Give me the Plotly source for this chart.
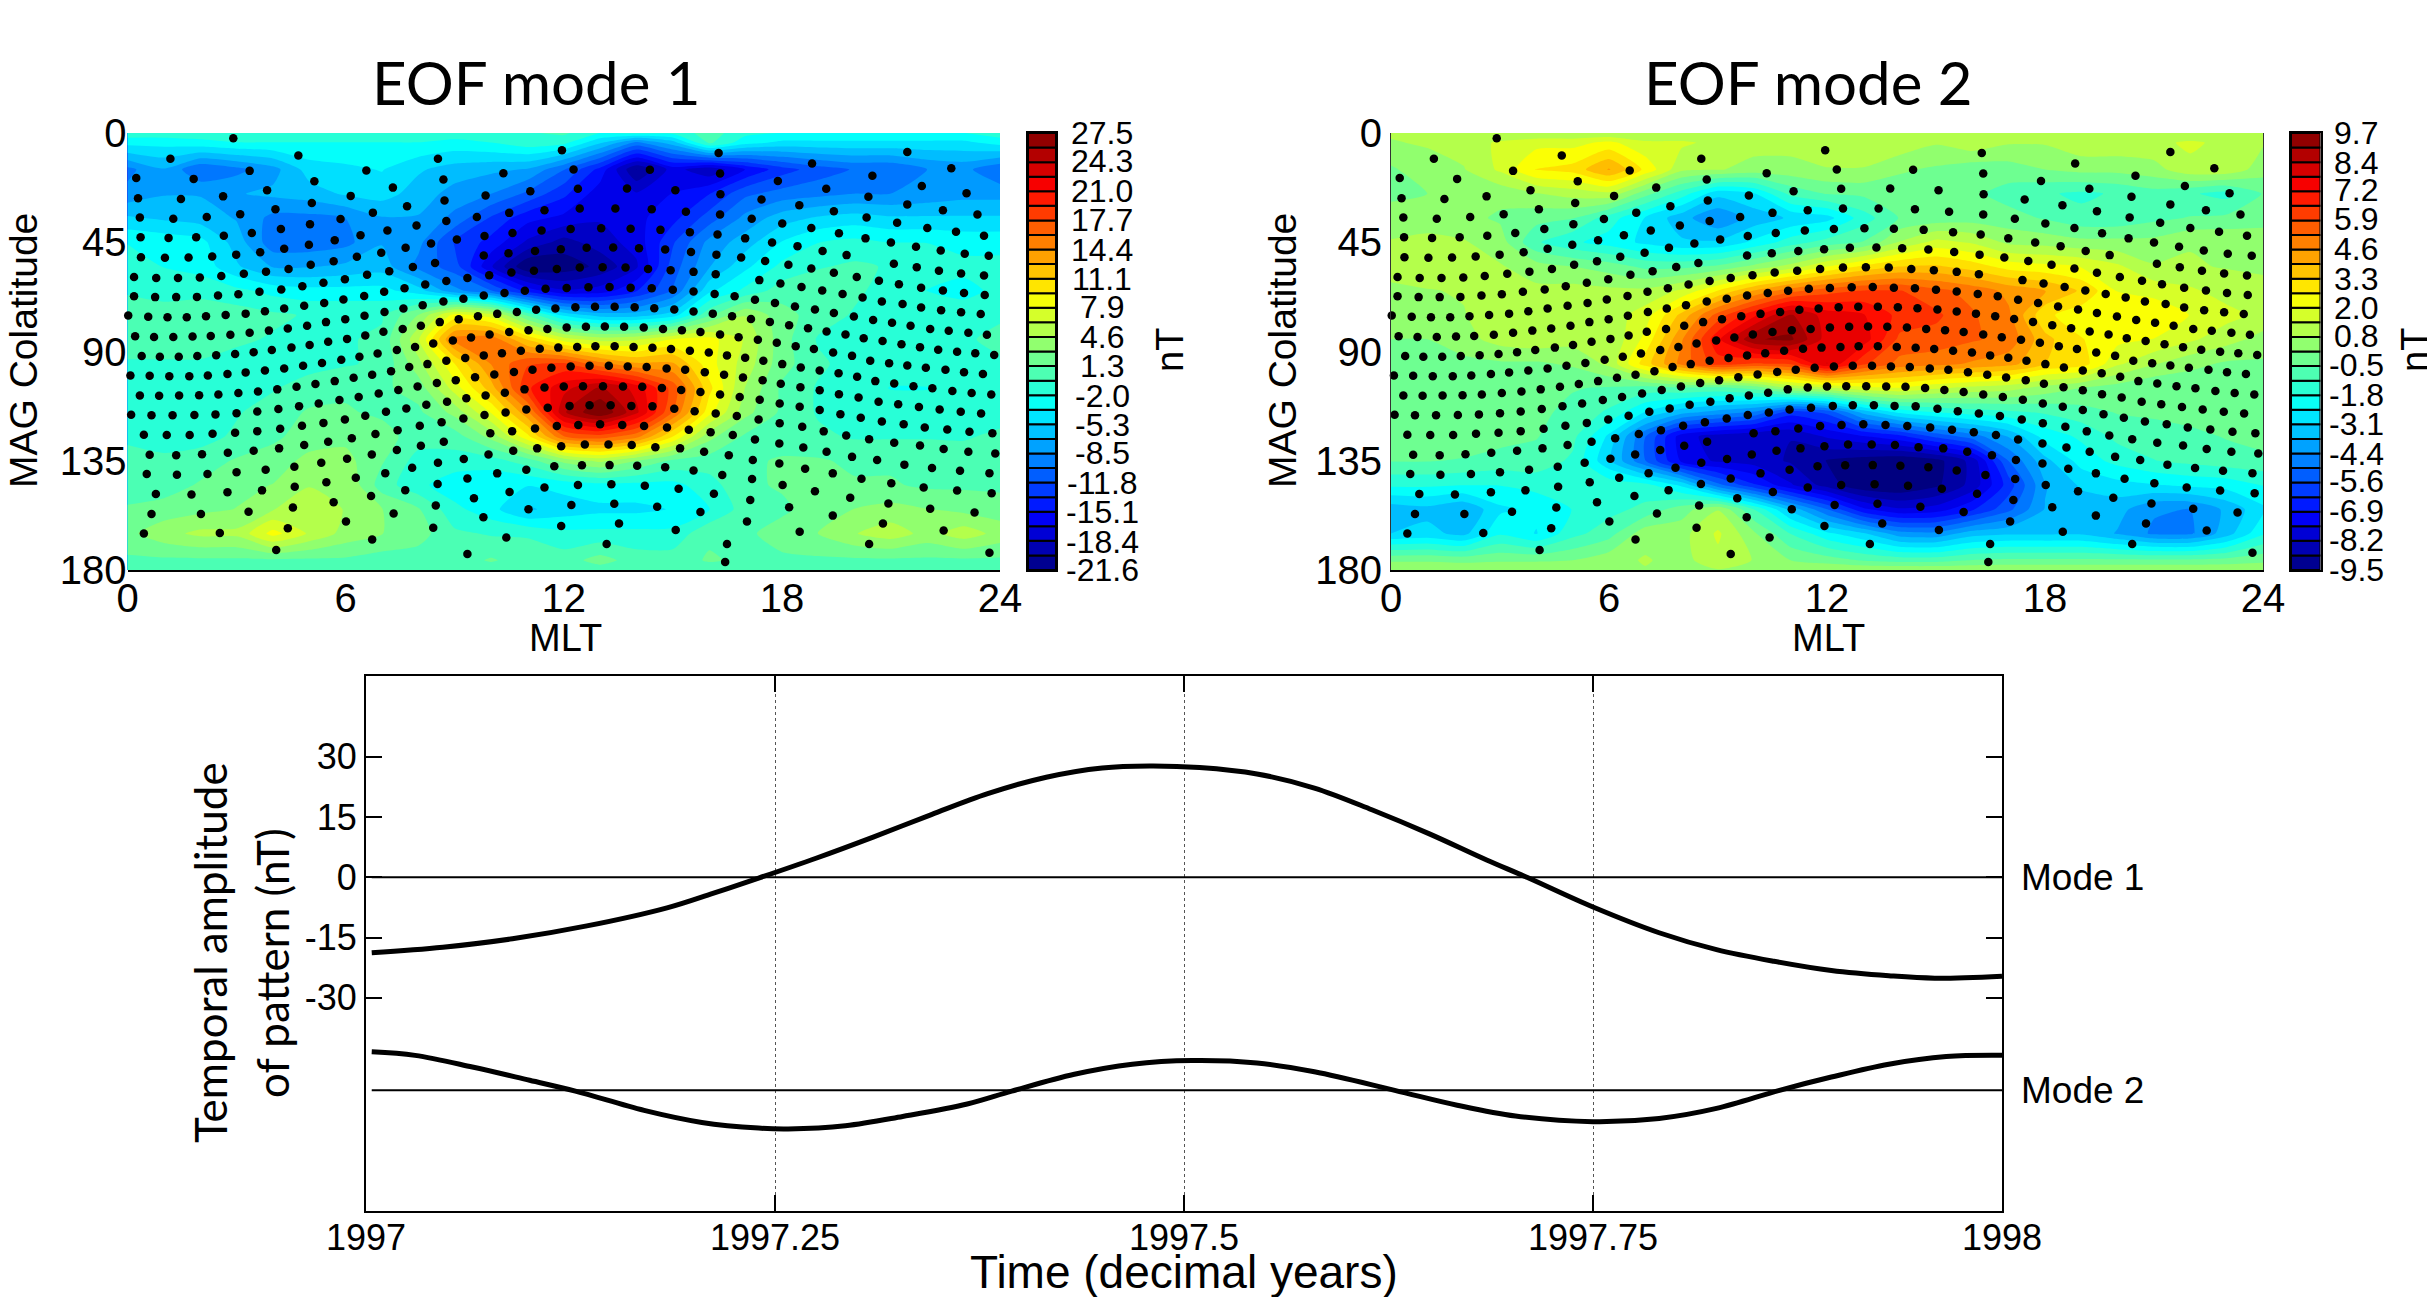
import plotly.graph_objects as go

W, H = 2435, 1297
BODY_MARGIN = 8

MLT_HOURS = list(range(25))
COLAT_ROWS = [0, 4, 15, 25, 35, 45, 55, 65, 75, 85, 95, 105, 115, 125, 135, 145, 155, 165, 176, 180]

MODE1_GRID = [
 [-1,-1,-1,-1,-1,-1,-1,-1,-1,-1,-1,-0.5,0,-2,-1.5,-1.5,0.5,-1.5,-2,-2,-2,-2,-2,-2,-1],
 [-3,-3,-2.5,-2,-2,-2,-2,-2,-2,-2.5,-2,-1,-1.5,-5,-9,-6,0,-3,-4,-4,-4,-4,-4,-4,-3],
 [-9,-7,-10,-9,-7.5,-4.5,-4,-3.5,-5,-6,-6.5,-7,-10,-14,-20,-16,-18,-15,-12.5,-11,-10,-10,-8.5,-8,-10],
 [-8,-7,-7,-7,-6.5,-6,-5,-4.5,-6,-7.5,-8.5,-10.5,-13,-16,-16.5,-15,-13.5,-10.5,-9.5,-9,-8.5,-8.5,-8,-7.5,-7.5],
 [-5,-5.5,-6,-7,-9,-9,-8.5,-7,-7,-9,-12,-14.5,-15.5,-16.5,-15.5,-14,-11,-8,-6,-5,-4.5,-5,-5,-5,-5],
 [-2,-2.5,-3,-6,-9.5,-9.5,-9,-7,-8,-12,-14,-17,-19,-17.5,-16,-12,-8,-6,-3.5,-2,-1.5,-2,-2,-2.5,-2.5],
 [-1.5,-2,-2.5,-5,-7,-7,-6.5,-6,-9,-11,-16.5,-21.5,-21,-19.5,-17,-11,-7,-4,-1.5,-0.5,0,-0.5,-1,-1.5,-1.5],
 [-0.5,-1,-1,-1.5,-2.5,-3,-3,-3,-4.5,-8,-10,-14,-16.5,-16,-13.5,-10,-4,-1.5,0.5,1,0,-1,-2,-2.5,-1.5],
 [0.5,0.5,1,0.5,0,-0.5,-0.5,-0.5,3,8.5,7,1,-4,-6,-6,-4.5,1,4.5,2,0.5,-0.5,-0.5,-1,-1,-0.5],
 [0.5,0.5,0.5,0,-0.5,-1,-0.5,0,6,15,15.5,11,7,5.5,6,8,8.5,6,2,-0.5,-1,-1,-1,-0.5,0],
 [-0.5,-0.5,-0.5,-1,-1,-1,-0.5,0,4,9.5,14.5,17.5,18,15,13,13,8.5,5.5,2,0,-1,-1.5,-1,-0.5,-0.5],
 [-1,-1,-1,-0.5,-0.5,0.5,1,1,2,7,12,19,22,24.5,22,17,10,4.5,1,-0.5,-1.5,-2,-2,-1.5,-1],
 [-1,-1.5,-1.5,-0.5,0.5,1.5,1.5,1,1,3.5,8,14,24,27.5,23,16,8.5,3.5,1,-0.5,-1.5,-1.5,-1.5,-1.5,-1],
 [-0.5,-1,-1,0,1,2,2.5,2,0.5,0.5,3.5,9,16,17,15,9.5,3.5,1,0.5,0,-0.5,-0.5,-0.5,-0.5,0],
 [0,0,0.5,1.5,2,3.5,3.5,1.5,-1,-1,-1,0.5,3.5,5,3,1,0.5,1,1.5,1.5,1,1,1,0.5,0.5],
 [0.5,0.5,1.5,2.5,3,4.5,4.5,0.5,-1.5,-3,-3.5,-3.5,-3,-2.5,-2.5,-2.5,-1,1,1.5,2,1.5,1.5,1,1,1],
 [1.5,2,2.5,3,4.5,5.5,4.5,3,1.5,-1.5,-3,-5.5,-4.5,-4,-4,-3.5,-2,0.5,1,2,3,3.5,3,2.5,2],
 [2.5,4,5,5,8.5,6,4,3,2,0,-0.5,-0.5,-1.5,-1.5,-1.5,-1.5,1,1,2,3,4.5,5.5,4,5.5,4],
 [1,1,1,1,1,1,1,0.5,0.5,0.5,1.5,0.5,0.5,2,0.5,0.5,1.5,1,1,1,1,1,1,1,1],
 [0.5,0.5,0.5,0.5,0.5,0.5,0.5,0.5,0.5,0.5,0.5,0.5,0.5,0.5,0.5,0.5,0.5,0.5,0.5,0.5,0.5,0.5,0.5,0.5,0.5],
]

MODE2_GRID = [
 [0.8,0.8,0.8,0.8,0.8,0.8,0.8,0.8,0.8,0.8,0.8,0.8,0.8,0.8,0.8,0.8,0.8,0.8,0.8,0.8,0.8,0.8,0.8,0.8,0.8],
 [0.7,0.8,1,1.5,1.8,1.8,2.2,1.5,1.5,1.2,1,1,1.2,1.2,1.2,0.8,1.2,0.8,0.8,1.2,1.2,1.2,1.5,1.2,0.8],
 [0,0.5,0.7,1.5,2.7,2.9,4,2.5,0.9,0.8,0.5,0.5,0.7,0.7,0.2,0,-0.3,-0.2,0.1,0.3,0.3,0.5,1.2,1.2,0.4],
 [0,0.1,0.1,0.3,0.7,1,1.2,-0.3,-1.5,-2.9,-2.5,-1,-0.5,-0.4,-0.3,-0.3,-0.4,-0.8,-1.1,-1.3,-1.1,-0.8,-1.1,-1.4,-0.5],
 [0.3,0.3,0.3,0,-0.3,-0.5,-1.5,-2.5,-3.5,-4.3,-3.5,-3,-2.7,-1.5,-0.5,-0.3,-0.2,-0.3,-0.6,-1,-1,-0.7,-0.5,-0.4,-0.3],
 [0.8,1,0.8,0.4,-1.1,-1.7,-2.1,-2.6,-3,-3,-2.3,-1.5,-0.9,-0.5,0.8,1.6,1.3,0.6,0.5,0.3,0.3,0.3,0.7,0.7,0.7],
 [1,1.2,1,0.8,0.4,0.1,-0.2,-0.7,-0.7,-0.4,0.3,1,2,2.8,3.3,3.4,3,2.4,2.2,2,1.5,0.8,0.8,0.7,0.6],
 [0.6,0.7,0.8,0.8,0.9,1,0.9,0.9,1.5,2.7,4,5,5.6,5.9,5.9,5.4,5,4.4,4,3.2,2,1.8,1.5,1.1,1],
 [0.4,0.5,0.7,1.2,1.2,1,1,1.7,3.5,5.5,7,8.5,7.5,7.2,6.3,6,5.3,4.7,2.8,2.3,2.4,2.5,2,1.6,1.2],
 [0.1,0.1,0.5,1,1.2,1,0.8,2.2,4.5,7,9,9.2,7.5,7.5,5.7,5.6,5.3,5,3.5,2.7,2.2,2,1.5,1,0.5],
 [0,-0.1,-0.1,0,0,0.2,0.9,3,4.8,6.2,5.8,6,7.8,6,5,4.8,4.5,4.2,3.3,3,1.5,0.8,0.3,0,0],
 [-0.2,-0.2,-0.2,-0.3,-0.5,-0.5,-0.6,-0.8,-0.6,-0.7,-0.3,0.8,1.3,1.8,2,1.5,1.2,1,0.5,0.1,-0.2,-0.5,-0.4,-0.3,-0.3],
 [0,0,0.1,-0.2,-0.4,-0.7,-1.3,-2.5,-3.5,-4,-4.5,-6,-5.5,-3.5,-2.3,-1.8,-1.5,-1.3,-1.1,-0.8,-0.5,-0.4,-0.3,-0.3,-0.2],
 [-0.1,-0.1,-0.1,-0.3,-0.5,-1,-2.6,-5,-7.3,-7.9,-8.2,-8.2,-7.5,-7,-6.5,-5.5,-4.7,-3.7,-2.2,-1.7,-1,-0.9,-0.7,-0.5,-0.3],
 [-0.5,-0.5,-0.6,-0.8,-0.8,-1.3,-3,-5,-7.1,-7.7,-7.9,-8.3,-8.9,-9.2,-9.4,-9.1,-8,-5,-3.3,-2.2,-1.6,-1.2,-1,-0.8,-0.7],
 [-1.7,-1.7,-1.8,-1.8,-1.6,-1.4,-1.4,-1.6,-2.6,-4.8,-6.2,-7.5,-8.5,-9.4,-9.5,-9,-8,-6,-3.8,-3,-2.7,-2.5,-2.3,-2.2,-1.8],
 [-3.5,-3.3,-3.7,-2.6,-2.3,-1.8,-1.4,-1,-0.2,0.7,-1.2,-3.3,-5,-6.8,-7.5,-7.3,-6.4,-5.2,-3.7,-3.5,-3.5,-4.3,-4.4,-3.6,-2.6],
 [-3.1,-2.9,-3.3,-1.9,-2.5,-1.4,-0.8,0.5,0.5,1.5,0.2,-1.2,-2.3,-3,-4.1,-4.2,-3.4,-3.2,-3.2,-3.2,-3.8,-4.5,-4.5,-3.4,-1.9],
 [0,0,-0.1,0,0,0.1,0.5,0.8,0.5,1.2,0.7,0.1,-0.2,-0.6,-0.8,-0.8,-0.5,-0.4,-0.4,-0.4,-0.4,-0.4,-0.4,-0.3,-0.1],
 [0.7,0.7,0.7,0.7,0.7,0.7,0.7,0.7,0.7,0.7,0.7,0.7,0.7,0.7,0.7,0.7,0.7,0.7,0.7,0.7,0.7,0.7,0.7,0.7,0.7],
]

MODE1_CB_TICKS = [27.5,24.3,21.0,17.7,14.4,11.1,7.9,4.6,1.3,-2.0,-5.3,-8.5,-11.8,-15.1,-18.4,-21.6]
MODE2_CB_TICKS = [9.7,8.4,7.2,5.9,4.6,3.3,2.0,0.8,-0.5,-1.8,-3.1,-4.4,-5.6,-6.9,-8.2,-9.5]
N_BANDS = 30

STATION_MLT_ROWS = [
 [2.91,11.95,16.26,21.45,1.18,4.70,8.54,18.83,22.66,3.36,6.57,12.27,14.37,16.30,0.24,1.82,5.14,8.69,10.34,17.89,20.49],
 [0.29,1.47,2.63,3.84,6.14,7.30,9.85,11.08,12.39,13.74,15.07,16.31,17.44,19.22,20.38,21.85,23.08],
 [0.34,1.26,2.18,3.10,4.07,5.07,5.86,6.75,7.69,8.72,9.61,10.50,11.47,12.44,13.42,14.42,15.36,16.30,17.17,18.48,19.43,20.33,21.45,22.43,23.38],
 [.36,1.13,1.89,2.65,3.42,4.22,5.02,5.70,6.41,7.15,7.95,8.77,9.82,10.59,11.39,12.19,13.03,13.84,14.66,15.47,16.23,16.99,18.01,18.81,19.57,20.30,21.17,22.0,22.79,23.56],
 [.37,1.03,1.68,2.33,2.99,3.65,4.31,4.99,6.31,6.98,7.65,8.35,9.06,9.80,10.48,11.21,11.92,12.63,13.36,14.07,14.79,15.50,16.20,16.88,17.73,18.43,19.12,19.78,21.0,21.69,22.37,23.03,23.69],
 [.18,.79,1.39,1.99,2.58,3.20,3.81,4.43,5.04,5.67,6.59,7.20,7.85,8.46,9.35,9.95,10.56,11.18,11.81,12.44,13.07,13.70,14.32,14.94,15.57,16.18,17.54,18.18,18.81,19.43,20.06,20.67,21.08,21.71,22.32,22.93,23.56],
 [.18,.76,1.34,1.91,2.49,3.05,3.63,4.23,4.81,5.39,5.98,6.51,7.06,7.62,8.19,8.77,9.80,10.37,10.93,11.50,12.08,12.68,13.26,13.84,14.42,15.0,15.57,16.15,16.70,17.38,17.96,18.54,19.11,19.67,20.22,20.75,21.22,21.83,22.43,23.01,23.58],
 [.02,.57,1.10,1.63,2.16,2.70,3.25,3.78,4.31,4.86,5.41,5.94,7.07,7.59,8.12,8.69,9.24,10.17,10.71,11.24,11.77,12.32,12.86,13.40,13.95,14.49,15.04,15.57,16.10,16.63,17.26,17.81,18.36,18.91,19.43,19.98,20.51,21.32,21.83,22.38,22.93,23.47],
 [.21,.73,1.26,1.79,2.29,2.83,3.36,3.89,4.41,4.94,5.46,5.99,6.52,7.04,7.57,8.07,8.59,9.11,9.64,10.50,11.03,11.55,12.08,12.61,13.13,13.66,14.20,14.73,15.25,15.76,16.30,17.15,17.67,18.20,18.72,19.23,19.75,20.25,21.03,21.54,22.08,22.59,23.13,23.64],
 [.39,.89,1.41,1.92,2.44,2.96,3.47,3.97,4.51,5.01,5.52,6.04,6.54,7.41,7.91,8.41,8.95,9.45,9.96,10.82,11.34,11.85,12.37,12.87,13.40,13.92,14.44,14.95,15.47,15.99,16.49,16.81,17.34,17.86,18.38,18.88,19.41,19.93,20.77,21.29,21.80,22.30,22.82,23.32,23.84],
 [.08,.61,1.15,1.70,2.21,2.75,3.25,3.78,4.31,4.83,5.35,5.88,6.38,6.88,7.75,8.25,8.77,9.29,9.80,10.30,10.63,11.14,11.66,12.19,12.71,13.24,13.76,14.28,14.83,15.34,15.88,16.41,16.99,17.49,18.01,18.52,19.04,19.56,20.07,20.43,20.95,21.45,21.96,22.50,23.01,23.53],
 [.34,.87,1.42,1.97,2.50,3.05,3.59,4.12,4.65,5.17,5.70,6.22,6.73,7.25,7.45,7.98,8.51,9.03,9.56,10.09,10.38,10.92,11.47,12.0,12.53,13.08,13.63,14.16,14.70,15.23,15.76,16.30,16.93,17.47,17.97,18.51,19.04,19.57,20.11,20.57,21.09,21.62,22.14,22.69,23.22,23.76],
 [.10,.66,1.24,1.84,2.42,3.0,3.57,4.15,4.72,5.26,5.83,6.36,6.91,7.11,7.67,8.22,8.79,9.32,9.85,9.82,10.40,10.97,11.56,12.16,12.71,13.29,13.86,14.44,15.04,15.60,16.18,16.84,17.39,17.94,18.49,19.04,19.61,20.17,20.66,21.20,21.77,22.34,22.92,23.48],
 [.45,1.08,1.71,2.34,2.96,3.57,4.20,4.80,5.39,5.98,6.54,6.82,7.43,8.04,8.64,9.24,9.98,10.58,11.21,11.81,12.40,13.0,13.61,14.21,14.84,15.44,16.04,16.65,16.76,17.36,17.94,18.56,19.15,19.77,20.40,20.75,21.35,21.93,22.55,23.16,23.79],
 [.61,1.34,2.05,2.76,3.47,4.17,4.86,5.52,6.17,6.72,7.41,8.07,8.70,9.25,9.93,10.61,11.27,11.93,12.58,13.23,13.87,14.52,15.20,15.86,16.54,17.26,17.93,18.59,19.23,19.93,20.62,21.09,21.80,22.45,23.13,23.87],
 [.53,1.36,2.20,3.0,3.80,4.59,5.33,6.04,7.09,7.83,8.54,10.17,10.97,11.74,12.50,13.26,14.02,14.79,15.57,16.36,17.20,17.93,18.64,19.40,20.19,21.37,22.13,22.90,23.71],
 [.78,1.76,2.75,3.70,4.60,5.47,6.28,7.64,8.53,9.35,10.51,11.47,12.39,13.31,14.23,15.16,16.13,17.18,18.02,18.91,19.88,21.01,21.90,22.82,23.77],
 [.66,2.02,3.33,4.55,5.67,6.70,8.48,9.53,11.03,12.21,13.39,14.57,15.76,17.13,18.20,19.40,20.93,22.08,23.30],
 [.45,2.54,4.41,6.01,7.32,8.41,9.79,11.93,13.52,15.08,17.04,18.49,20.78,22.45],
 [4.09,6.73,10.42,13.18,16.49,20.40,23.71,9.35,16.44],
]
STATION_COLAT_ROWS = [
 [2.2,7.1,8.2,7.8,10.6,9.3,10.6,12.6,14.5,15.6,15.4,15.0,15.1,16.7,18.5,18.9,19.9,19.2,16.6,19.8,17.6],
 [26.9,27.2,26.1,23.6,25.9,22.5,25.7,24,23,22.9,23.6,25.2,27.4,23,26.3,21.8,24.8],
 [34.8,35.3,34.6,33.5,31.4,28.8,35.4,32.8,30.2,27.8,34.6,32.9,31.8,31.1,31.1,31.4,32.4,33.6,35.3,29.8,32.2,34.8,29.4,31.8,33.6],
 [42.9,43.2,42.9,42.3,41.2,39.5,37.6,44.2,42.1,40.2,38.1,36.2,42.4,41.2,40.2,39.5,39.2,39.4,39.9,40.9,41.8,43.4,37.3,39.1,41.3,43.4,37.0,39.1,40.7,42.3],
 [51.2,51.4,51.3,50.9,50.1,49.1,47.7,46.0,51.0,49.3,47.3,45.5,43.9,50.5,49.5,48.6,47.9,47.3,47.2,47.5,48.0,49.0,50.1,51.3,45.1,46.6,48.6,50.3,45.1,46.9,48.4,49.7,50.6],
 [59.3,59.7,59.7,59.5,58.9,58.0,57.1,56.0,54.3,52.8,58.4,56.9,55.2,53.5,59.7,58.6,57.5,56.7,56.0,55.4,55.3,55.4,56.0,56.5,57.2,58.2,52.7,54.3,55.8,57.6,59.3,60.9,53.9,55.3,56.7,57.9,58.7],
 [67.2,67.6,67.6,67.5,66.9,66.4,65.4,64.5,63.1,61.7,60.2,67.1,65.4,63.9,62.4,61.0,66.9,65.9,65.0,64.2,63.8,63.5,63.4,63.7,63.9,64.6,65.3,66.3,67.2,60.6,62.0,63.4,64.9,66.3,67.8,69.4,62.3,63.7,64.9,65.9,66.7],
 [75.2,75.7,75.9,75.9,75.5,75.0,74.4,73.4,72.3,71.2,70.0,68.6,73.7,72.3,70.9,69.4,68.3,74.5,73.7,72.8,72.3,71.8,71.6,71.6,71.8,72.2,72.7,73.5,74.4,75.5,68.7,70.0,71.5,72.7,74.1,75.6,77.0,70.4,71.9,73.0,73.8,74.6],
 [83.7,84.0,84.0,83.8,83.6,83.1,82.3,81.4,80.5,79.4,77.9,76.7,75.3,81.9,80.7,79.4,77.9,76.7,75.5,82.0,81.2,80.7,80.1,79.8,79.7,79.8,80.1,80.7,81.2,82.0,83.0,76.6,77.8,79.2,80.4,81.8,83.0,84.5,78.2,79.4,80.7,81.5,82.3,83.1],
 [91.9,92.2,92.2,91.9,91.5,91.0,90.3,89.4,88.4,87.3,86.0,84.8,83.4,89.4,88.1,86.7,85.5,84.2,83.0,89.7,88.9,88.4,88.1,87.8,87.8,88.1,88.5,89.0,89.7,90.4,91.6,84.1,85.2,86.4,87.8,89.0,90.4,91.8,85.7,87.0,88.2,89.3,90.1,90.7,91.4],
 [99.9,100,100.2,100.2,99.9,99.3,98.6,97.8,97,95.9,94.7,93.4,92.2,90.8,96.4,95.2,93.8,92.7,91.6,90.7,98.4,97.5,96.7,96.2,95.9,95.9,96.2,96.4,97,97.5,98.5,99.6,92.6,93.8,95.2,96.6,97.8,99,100.4,93.8,94.8,95.8,96.7,97.5,98.5,99.3],
 [108.1,108.2,108.1,108,107.7,107.1,106.5,105.6,104.5,103.4,102.2,100.8,99.6,98.1,105.9,104.4,103,101.8,100.6,99.5,107,105.6,104.8,104.4,104.3,104.3,104.4,104.5,105,105.9,106.7,107.7,100.7,101.8,103.3,104.7,106,107.6,108.9,102.2,103.2,104.3,105.1,106.3,107.1,107.7],
 [116.1,116.3,116.3,116.2,115.9,115.4,114.7,113.7,112.5,111.4,110,108.7,107.3,114.8,113.5,111.9,110.7,109.3,108.1,116.2,115.1,113.9,113.2,112.4,112.1,112.1,112.4,112.6,113.6,114.6,115.5,108.7,109.9,111.4,112.8,114.1,115.8,117.3,110.7,111.7,112.9,113.9,114.8,115.5],
 [124.3,124.4,124.4,123.9,123.5,122.8,121.8,120.6,119.4,118,116.5,124,122.4,120.6,119.1,117.6,123.7,122.8,121.7,120.7,120.3,120,120.3,120.7,121.3,122.2,123.3,124.4,116.6,118,119.6,121,122.9,124.6,126.1,118.8,120,121.3,122.1,123.1,123.7],
 [132.5,132.7,132.3,131.7,130.9,129.9,128.5,127.2,125.7,132.4,130.6,128.8,127.2,134.3,132.4,130.9,129.9,129,128.3,128.3,128.5,129.4,129.9,131.3,132.7,126.2,127.9,129.5,131.3,133.4,134.7,127.6,128.7,130.2,131.3,132],
 [140.5,140.8,140.5,139.7,138.7,137.5,135.8,134.2,140.1,137.9,135.8,140.2,138.7,137.3,136.9,136.8,137.1,137.7,139,140.9,134.7,136.1,138.3,140.2,142.4,136.6,138,139.1,140.1],
 [148.7,148.9,148,147.2,145.7,143.9,142,147.1,144.6,142.3,147.9,146,145,144.7,145.3,146.5,148.6,142.5,145,147.6,150.2,144.3,146,147.3,148.4],
 [156.9,156.9,156,154.3,152.1,149.5,153.4,150.4,155,153.2,152.7,153.9,156.1,151.2,154.2,157.6,152.6,154.8,156.3],
 [165,164.8,162.8,160,156.7,162.6,158.3,161.9,160.8,163.5,160,164.2,160.8,163.7],
 [171.8,167.4,166.6,169.3,169.3,169.3,172.9,173.4,176.7],
]
for _a, _b in zip(STATION_MLT_ROWS, STATION_COLAT_ROWS):
    assert len(_a) == len(_b), (len(_a), len(_b))
station_mlt = [v for r in STATION_MLT_ROWS for v in r]
station_colat = [v for r in STATION_COLAT_ROWS for v in r]

MODE1_T = [1997.0035,1997.047,1997.0895,1997.135,1997.184,1997.212,1997.24,1997.2755,1997.31,1997.3456,1997.38,1997.4158,1997.45,1997.479,1997.5095,1997.5446,1997.5797,1997.6148,1997.65,1997.685,1997.7096,1997.75,1997.7904,1997.8255,1997.8606,1997.8957,1997.9308,1997.9589,1998.0]
MODE1_AMP = [-18.8,-17.4,-15.3,-12.1,-7.6,-4.0,-0.2,4.8,10.0,15.6,20.8,24.9,27.2,27.7,27.3,25.7,22.2,16.8,10.8,4.3,0.0,-7.4,-13.8,-18.0,-20.9,-23.2,-24.5,-25.1,-24.6]
MODE2_T = [1997.0035,1997.03,1997.065,1997.1,1997.128,1997.17,1997.2053,1997.24,1997.258,1997.293,1997.328,1997.3675,1997.3947,1997.433,1997.4684,1997.505,1997.5446,1997.5797,1997.6288,1997.667,1997.7026,1997.75,1997.7904,1997.8255,1997.864,1997.8957,1997.9308,1997.9659,1998.0]
MODE2_AMP = [9.6,8.7,5.8,2.5,-0.2,-5.0,-8.0,-9.4,-9.6,-8.8,-6.5,-3.4,-0.2,4.0,6.5,7.4,6.8,4.6,0.0,-3.7,-6.4,-7.8,-7.0,-4.5,0.0,3.3,6.5,8.4,8.7]
MODE2_OFFSET = -53.0
TIME_TICKS = [1997, 1997.25, 1997.5, 1997.75, 1998]
TIME_LABELS = ["1997", "1997.25", "1997.5", "1997.75", "1998"]
AMP_TICKS = [-30, -15, 0, 15, 30]
AMP_LABELS = ["-30", "-15", "0", "15", "30"]

JET = [[0, '#000080'], [0.125, '#0000ff'], [0.375, '#00ffff'], [0.625, '#ffff00'], [0.875, '#ff0000'], [1, '#800000']]
TICK_FONT = "Liberation Sans"
TITLE_FONT = "Lato"

FIG_W = W - BODY_MARGIN
FIG_H = H - BODY_MARGIN

def fx(px):
    return (px - BODY_MARGIN) / FIG_W

def fy(px):
    return 1 - (px - BODY_MARGIN) / FIG_H

fig = go.Figure()

def contour(grid, ticks, xa, ya):
    lo, hi = ticks[-1], ticks[0]
    step = (hi - lo) / N_BANDS
    fig.add_trace(go.Contour(x=MLT_HOURS, y=COLAT_ROWS, z=grid, xaxis=xa, yaxis=ya, colorscale=JET,
                             zmin=lo, zmax=hi, zauto=False, autocontour=False,
                             contours=dict(start=lo + step, end=hi - step / 2, size=step, coloring='fill', showlines=False),
                             line=dict(width=0, smoothing=0.6), showscale=False, hoverinfo='skip'))
    fig.add_trace(go.Scatter(x=station_mlt, y=station_colat, xaxis=xa, yaxis=ya, mode='markers',
                             marker=dict(color='black', size=8.5), showlegend=False, hoverinfo='skip', cliponaxis=False))

def colorbar(ticks, xa, ya):
    lo, hi = ticks[-1], ticks[0]
    step = (hi - lo) / N_BANDS
    bases = [lo + i * step for i in range(N_BANDS)]
    fig.add_trace(go.Bar(x=[0] * N_BANDS, y=[step] * N_BANDS, base=bases, width=1, xaxis=xa, yaxis=ya,
                         marker=dict(color=[b + step / 2 for b in bases], colorscale=JET, cmin=lo, cmax=hi,
                                     line=dict(color='black', width=2)),
                         showlegend=False, hoverinfo='skip'))

contour(MODE1_GRID, MODE1_CB_TICKS, 'x', 'y')
contour(MODE2_GRID, MODE2_CB_TICKS, 'x2', 'y2')
colorbar(MODE1_CB_TICKS, 'x4', 'y4')
colorbar(MODE2_CB_TICKS, 'x5', 'y5')

fig.add_trace(go.Scatter(x=[MODE1_T[0], 1998], y=[0, 0], xaxis='x3', yaxis='y3', mode='lines',
                         line=dict(color='black', width=2), showlegend=False, hoverinfo='skip'))
fig.add_trace(go.Scatter(x=[MODE2_T[0], 1998], y=[MODE2_OFFSET, MODE2_OFFSET], xaxis='x3', yaxis='y3', mode='lines',
                         line=dict(color='black', width=2), showlegend=False, hoverinfo='skip'))
fig.add_trace(go.Scatter(x=MODE1_T, y=MODE1_AMP, xaxis='x3', yaxis='y3', mode='lines', name='Mode 1',
                         line=dict(color='black', width=5, shape='spline', smoothing=1), showlegend=False))
fig.add_trace(go.Scatter(x=MODE2_T, y=[a + MODE2_OFFSET for a in MODE2_AMP], xaxis='x3', yaxis='y3', mode='lines', name='Mode 2',
                         line=dict(color='black', width=5, shape='spline', smoothing=1), showlegend=False))

tf = dict(family=TICK_FONT, size=40, color='black')

def map_axes(left, right, mirror_y):
    xa = dict(domain=[fx(left), fx(right)], range=[0, 24], tickvals=[0, 6, 12, 18, 24], tickfont=tf, automargin=False,
              showgrid=False, zeroline=False, showline=True, linecolor='black', linewidth=2, ticks='', ticklabelstandoff=-8)
    ya = dict(domain=[fy(570), fy(133)], range=[180, 0], tickvals=[0, 45, 90, 135, 180], tickfont=tf, automargin=False,
              showgrid=False, zeroline=False, showline=mirror_y, mirror=mirror_y, linecolor='#333', linewidth=1, ticks='')
    return xa, ya

xa1, ya1 = map_axes(127.5, 1000, False)
xa2, ya2 = map_axes(1391, 2263, True)
xa1['anchor'] = 'y'; ya1['anchor'] = 'x'
xa2['anchor'] = 'y2'; ya2['anchor'] = 'x2'

bar_x = dict(range=[-0.5, 0.5], showticklabels=False, showgrid=False, zeroline=False, ticks='', automargin=False,
             showline=True, linecolor='black', linewidth=2, mirror=True)
bar_y = dict(showticklabels=False, showgrid=False, zeroline=False, ticks='', showline=True, automargin=False,
             linecolor='black', linewidth=2, mirror=True, domain=[fy(570), fy(133)])

fig.update_layout(
    width=FIG_W, height=FIG_H, margin=dict(l=0, r=0, t=0, b=0), paper_bgcolor='white', plot_bgcolor='white',
    showlegend=False, barmode='overlay', hovermode=False,
    xaxis=xa1, yaxis=ya1, xaxis2=xa2, yaxis2=ya2,
    xaxis3=dict(anchor='y3', domain=[fx(366), fx(2002)], range=[1997, 1998], tickvals=TIME_TICKS, ticktext=TIME_LABELS, automargin=False,
                tickfont=dict(family=TICK_FONT, size=36, color='black'), ticks='inside', ticklen=16, tickcolor='black', tickwidth=2,
                showline=True, mirror='ticks', linecolor='black', linewidth=2, zeroline=False, ticklabelstandoff=-6,
                showgrid=True, gridcolor='#555', griddash='dot', gridwidth=1),
    yaxis3=dict(anchor='x3', domain=[fy(1210.5), fy(675.5)], range=[-82.9, 50.2], tickvals=AMP_TICKS, ticktext=AMP_LABELS, automargin=False,
                tickfont=dict(family=TICK_FONT, size=36, color='black'), ticks='inside', ticklen=16, tickcolor='black', tickwidth=2,
                showline=True, mirror='ticks', linecolor='black', linewidth=2, zeroline=False, showgrid=False),
    xaxis4=dict(anchor='y4', domain=[fx(1028), fx(1056)], **bar_x),
    yaxis4=dict(anchor='x4', range=[MODE1_CB_TICKS[-1], MODE1_CB_TICKS[0]], **bar_y),
    xaxis5=dict(anchor='y5', domain=[fx(2291), fx(2320.5)], **bar_x),
    yaxis5=dict(anchor='x5', range=[MODE2_CB_TICKS[-1], MODE2_CB_TICKS[0]], **bar_y),
)

def note(text, px, py, size, family=TICK_FONT, angle=0):
    fig.add_annotation(text=text, x=fx(px), y=fy(py), xref='paper', yref='paper', showarrow=False,
                       xanchor='center', yanchor='middle', textangle=angle,
                       font=dict(family=family, size=size, color='black'))

note("EOF mode 1", 536, 82, 60, TITLE_FONT)
note("EOF mode 2", 1808, 82, 60, TITLE_FONT)
note("MAG Colatitude", 24, 351, 39, angle=-90)
note("MAG Colatitude", 1283, 351, 39, angle=-90)
note("MLT", 565, 638, 38)
note("MLT", 1828, 638, 38)
note("nT", 1170, 350, 38, angle=-90)
note("nT", 2415, 350, 38, angle=-90)
note("Temporal amplitude", 210, 953, 44, TITLE_FONT, angle=-90)
note("of pattern (nT)", 272, 963, 44, TITLE_FONT, angle=-90)
note("Time (decimal years)", 1184, 1272, 46)

for label, val in (("Mode 1", 0), ("Mode 2", MODE2_OFFSET)):
    fig.add_annotation(text=label, x=fx(2019), y=val, xref='paper', yref='y3', showarrow=False, xanchor='left',
                       yanchor='middle', font=dict(family=TICK_FONT, size=37, color='black'))

for ticks, yr, cx in ((MODE1_CB_TICKS, 'y4', 1102), (MODE2_CB_TICKS, 'y5', 2356)):
    for v in ticks:
        fig.add_annotation(text=f"{v:.1f}", x=fx(cx), y=v, xref='paper', yref=yr, showarrow=False, xanchor='center',
                           yanchor='middle', font=dict(family=TICK_FONT, size=32, color='black'))

fig.write_html("out.html")
